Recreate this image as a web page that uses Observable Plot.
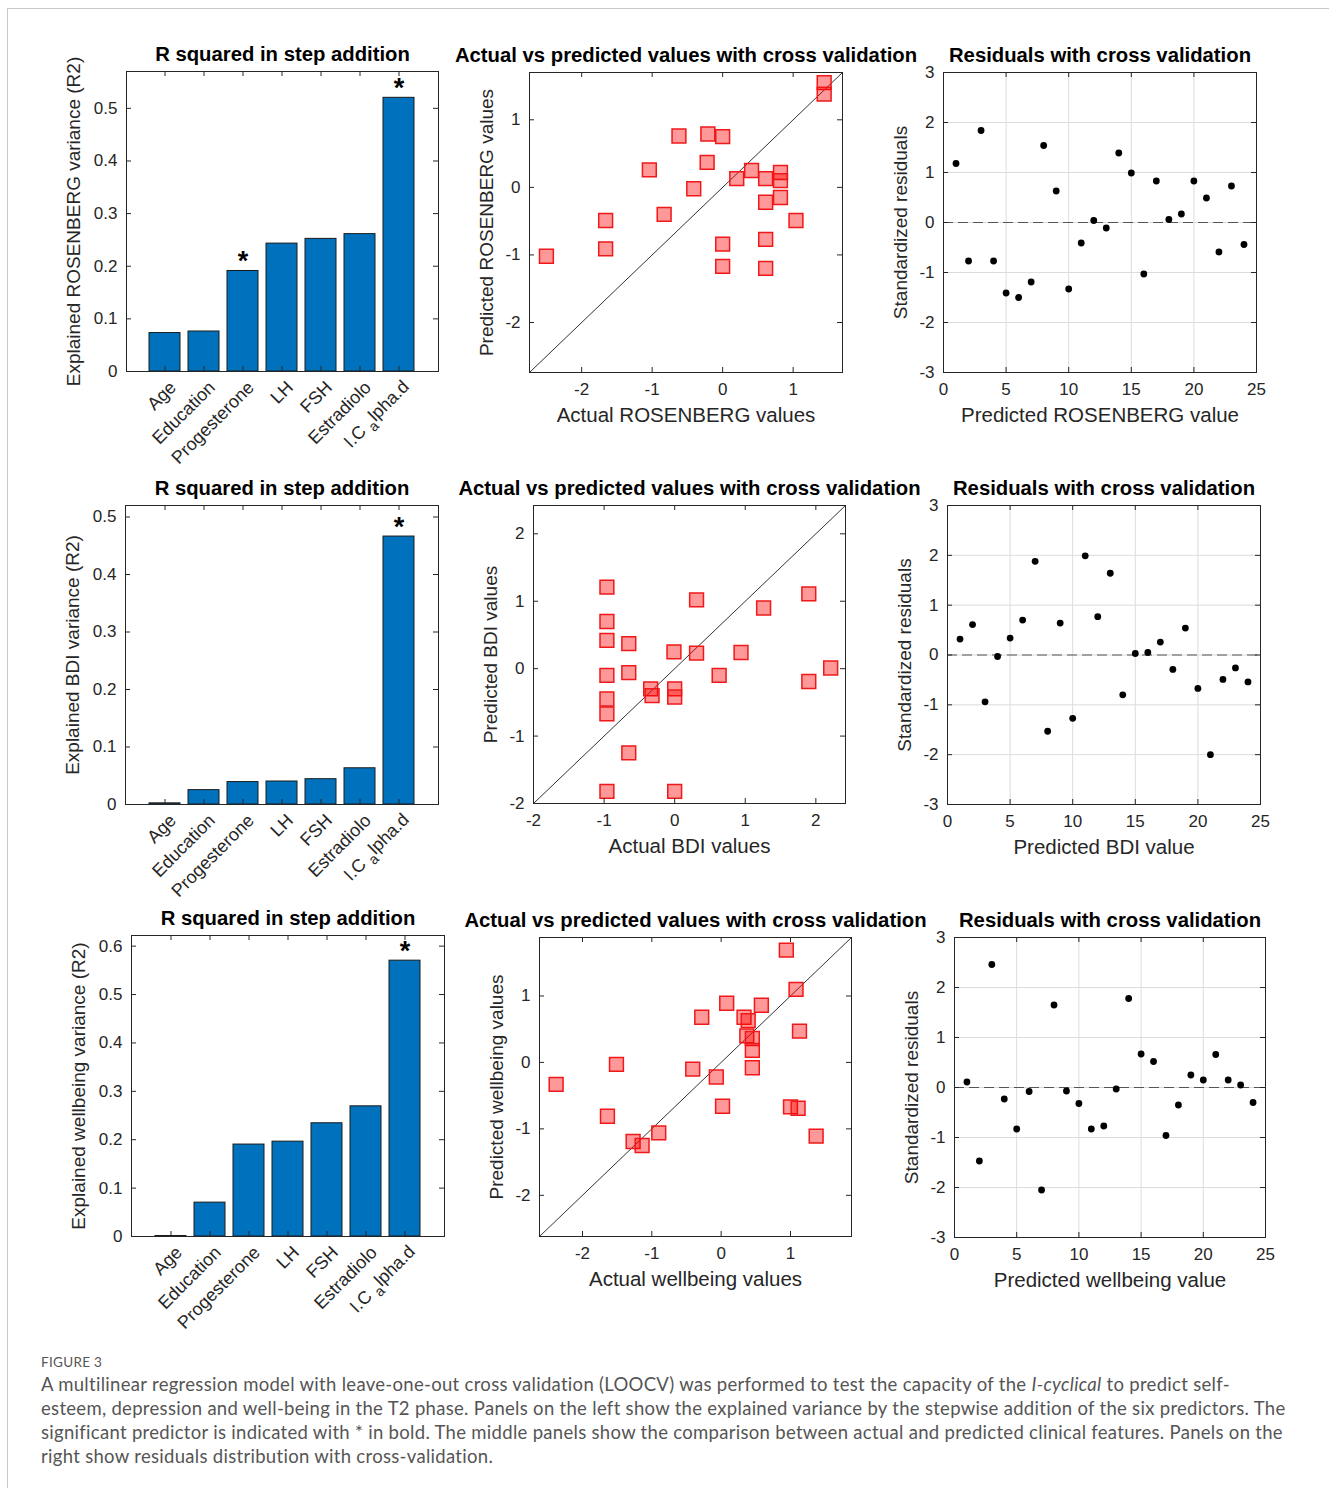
<!DOCTYPE html>
<html><head><meta charset="utf-8">
<script src="https://cdn.jsdelivr.net/npm/d3@7"></script>
<script src="https://cdn.jsdelivr.net/npm/@observablehq/plot@0.6"></script>
<style>
body{margin:0;background:#fff;width:1329px;height:1488px;overflow:hidden;position:relative;font-family:"Liberation Sans",Arial,sans-serif;}
.border{position:absolute;left:7px;top:8px;width:1340px;height:1500px;border-left:1px solid #c8c8c8;border-top:1px solid #c8c8c8;}
.panel{position:absolute;}
.panel svg{overflow:visible;}
.caption{position:absolute;left:41px;top:1352px;font-family:Lato,"Open Sans",sans-serif;color:#555;}
.caption .fig{font-size:13.5px;letter-spacing:0.3px;line-height:20px;}
.caption .txt{font-size:18.5px;letter-spacing:0.3px;line-height:24px;white-space:nowrap;}
</style></head><body>
<div class="border"></div>
<div id="root"></div>
<div class="caption">
<div class="fig">FIGURE 3</div>
<div class="txt">A multilinear regression model with leave-one-out cross validation (LOOCV) was performed to test the capacity of the <i>I-cyclical</i> to predict self-<br>esteem, depression and well-being in the T2 phase. Panels on the left show the explained variance by the stepwise addition of the six predictors. The<br>significant predictor is indicated with * in bold. The middle panels show the comparison between actual and predicted clinical features. Panels on the<br>right show residuals distribution with cross-validation.</div>
</div>
<script>
// ---------- data ----------
const predictors = ["Age","Education","Progesterone","LH","FSH","Estradiolo","I.Calpha.d"];

const r2Rosenberg = [0.073, 0.076, 0.191, 0.243, 0.252, 0.261, 0.520];
const sigRosenberg = [false, false, true, false, false, false, true];
const r2Bdi = [0.002, 0.025, 0.039, 0.040, 0.044, 0.063, 0.466];
const sigBdi = [false, false, false, false, false, false, true];
const r2Wellbeing = [0.001, 0.070, 0.190, 0.196, 0.234, 0.269, 0.570];
const sigWellbeing = [false, false, false, false, false, false, true];

const actualRosenberg = [1.44, 1.44, -0.62, -0.21, 0.00, -0.22, -1.04, -0.41, -0.83, -1.66, -1.66, -2.50, 0.20, 0.41, 0.61, 0.82, 0.82, 0.61, 0.82, 1.04, 0.00, 0.00, 0.61, 0.61];
const predictedRosenberg = [1.55, 1.38, 0.76, 0.79, 0.75, 0.37, 0.26, -0.02, -0.40, -0.49, -0.91, -1.02, 0.13, 0.25, 0.13, 0.22, 0.10, -0.22, -0.15, -0.49, -0.84, -1.17, -0.77, -1.20];
const residRosenberg = [1.18, -0.77, 1.84, -0.77, -1.41, -1.50, -1.19, 1.54, 0.63, -1.33, -0.41, 0.04, -0.11, 1.39, 0.99, -1.03, 0.83, 0.06, 0.17, 0.83, 0.49, -0.59, 0.73, -0.44];

const actualBdi = [-0.96, -0.96, -0.96, -0.65, -0.96, -0.65, -0.96, -0.96, -0.65, -0.96, 0.00, -0.01, -0.34, -0.32, 0.00, 0.00, 0.31, 0.31, 0.63, 0.94, 1.26, 1.90, 1.90, 2.21];
const predictedBdi = [1.21, 0.70, 0.42, 0.37, -0.10, -0.06, -0.45, -0.67, -1.25, -1.82, -1.82, 0.25, -0.30, -0.40, -0.30, -0.42, 1.02, 0.23, -0.10, 0.24, 0.90, 1.11, -0.19, 0.01];
const residBdi = [0.32, 0.61, -0.94, -0.03, 0.34, 0.70, 1.88, -1.53, 0.64, -1.27, 1.99, 0.77, 1.64, -0.80, 0.03, 0.05, 0.26, -0.29, 0.54, -0.67, -2.00, -0.49, -0.26, -0.54];

const actualWellbeing = [-2.38, -1.51, -1.64, -1.27, -1.14, -0.90, -0.41, -0.28, -0.07, 0.02, 0.08, 0.33, 0.39, 0.37, 0.45, 0.45, 0.45, 0.58, 0.94, 1.08, 1.13, 1.00, 1.11, 1.37];
const predictedWellbeing = [-0.33, -0.03, -0.81, -1.19, -1.25, -1.06, -0.10, 0.68, -0.22, -0.66, 0.89, 0.68, 0.63, 0.40, 0.36, 0.18, -0.08, 0.86, 1.69, 1.10, 0.47, -0.67, -0.69, -1.11];
const residWellbeing = [0.11, -1.47, 2.46, -0.23, -0.83, -0.08, -2.05, 1.65, -0.07, -0.32, -0.83, -0.77, -0.03, 1.78, 0.67, 0.52, -0.96, -0.35, 0.25, 0.15, 0.66, 0.15, 0.05, -0.30];

const barTitle = "R squared in step addition";
const scatterTitle = "Actual vs predicted values with cross validation";
const residTitle = "Residuals with cross validation";

// ---------- style ----------
const INK = "#262626";
const FONT = "'Liberation Sans', Arial, sans-serif";
const TICK_FS = 17, BAR_TICK_FS = 18, LABEL_FS = 20.5, YLABEL_FS = 19, TITLE_FS = 20.3;
const M = {left: 90, right: 30, top: 50, bottom: 115};
const fmt = d => String(d);

function dims(f) {
  return {
    width: M.left + f.w + M.right, height: M.top + f.h + M.bottom,
    marginLeft: M.left, marginRight: M.right, marginTop: M.top, marginBottom: M.bottom,
    style: {fontFamily: FONT, fontSize: TICK_FS + "px", color: INK, background: "transparent", overflow: "visible"}
  };
}
function place(svg, f) {
  const div = document.createElement("div");
  div.className = "panel";
  div.style.left = (f.x - M.left) + "px";
  div.style.top = (f.y - M.top) + "px";
  div.append(svg);
  document.getElementById("root").append(div);
}
function inward(xTicks, yTicks, f, len = 5) {
  return [
    Plot.tickX(xTicks, {x: d => d, insetTop: f.h - len, stroke: INK}),
    Plot.tickX(xTicks, {x: d => d, insetBottom: f.h - len, stroke: INK}),
    Plot.tickY(yTicks, {y: d => d, insetRight: f.w - len, stroke: INK}),
    Plot.tickY(yTicks, {y: d => d, insetLeft: f.w - len, stroke: INK})
  ];
}
function labels(f, title, xLabel, yLabel, xOff, yOff) {
  const m = [Plot.text([title], {frameAnchor: "top", textAnchor: "middle", dy: -11, lineAnchor: "bottom", fontWeight: "bold", fontSize: TITLE_FS, fill: "#000"})];
  if (xLabel) m.push(Plot.text([xLabel], {frameAnchor: "bottom", textAnchor: "middle", dy: xOff, fontSize: LABEL_FS, fill: INK}));
  if (yLabel) m.push(Plot.text([yLabel], {frameAnchor: "left", textAnchor: "middle", dx: -yOff, rotate: -90, fontSize: YLABEL_FS, fill: INK}));
  return m;
}

function barPanel(f, yMax, yTicks, values, sig, yLabel) {
  const data = predictors.map((p, i) => ({p, v: values[i], s: sig[i]}));
  const svg = Plot.plot({
    ...dims(f),
    x: {domain: predictors, paddingInner: 0.2, paddingOuter: 0.6, align: 0.5},
    y: {domain: [0, yMax]},
    marks: [
      Plot.barY(data, {x: "p", y: "v", fill: "#0072BD", stroke: "#1a1a1a", strokeWidth: 1}),
      Plot.text(data.filter(d => d.s), {x: "p", y: "v", text: () => "*", dy: -1, lineAnchor: "bottom", fontSize: 27, fontWeight: "bold", fill: "#000"}),
      Plot.frame({stroke: INK}),
      ...inward(predictors, yTicks, f),
      Plot.axisX({tickSize: 0, tickRotate: -45, tickPadding: 13, dx: 8, fontSize: BAR_TICK_FS, label: null}),
      Plot.axisY({ticks: yTicks, tickSize: 0, tickPadding: 9, fontSize: TICK_FS, label: null, tickFormat: fmt}),
      ...labels(f, barTitle, null, yLabel, 0, 53)
    ]
  });
  svg.querySelectorAll("text").forEach(t => {
    if (t.textContent === "I.Calpha.d") {
      t.innerHTML = 'I.C <tspan dy="0.35em" font-size="0.8em">a</tspan><tspan dy="-0.35em">lpha.d</tspan>';
    }
  });
  place(svg, f);
}

function scatterPanel(f, dom, xTicks, yTicks, actual, predicted, xLabel, yLabel) {
  const data = actual.map((a, i) => ({a, p: predicted[i]}));
  const svg = Plot.plot({
    ...dims(f),
    x: {domain: dom}, y: {domain: dom},
    marks: [
      Plot.line(dom, {x: d => d, y: d => d, stroke: "#333", strokeWidth: 1}),
      Plot.dot(data, {x: "a", y: "p", symbol: "square", r: 7.8, fill: "#ff0000", fillOpacity: 0.4, stroke: "#f01818", strokeWidth: 1.5}),
      Plot.frame({stroke: INK}),
      ...inward(xTicks, yTicks, f),
      Plot.axisX({ticks: xTicks, tickSize: 0, tickPadding: 10, fontSize: TICK_FS, label: null, tickFormat: fmt}),
      Plot.axisY({ticks: yTicks, tickSize: 0, tickPadding: 9, fontSize: TICK_FS, label: null, tickFormat: fmt}),
      ...labels(f, scatterTitle, xLabel, yLabel, 49, 43)
    ]
  });
  place(svg, f);
}

const residXTicks = [0, 5, 10, 15, 20, 25];
const residYTicks = [-3, -2, -1, 0, 1, 2, 3];
function residPanel(f, resid, xLabel) {
  const data = resid.map((r, i) => ({i: i + 1, r}));
  const svg = Plot.plot({
    ...dims(f),
    x: {domain: [0, 25]}, y: {domain: [-3, 3]},
    marks: [
      Plot.gridX(residXTicks, {stroke: "#dcdcdc", strokeOpacity: 1}),
      Plot.gridY(residYTicks, {stroke: "#dcdcdc", strokeOpacity: 1}),
      Plot.ruleY([0], {stroke: "#555", strokeDasharray: "10,5", strokeWidth: 1}),
      Plot.dot(data, {x: "i", y: "r", r: 3.4, fill: "#000"}),
      Plot.frame({stroke: INK}),
      ...inward(residXTicks, residYTicks, f),
      Plot.axisX({ticks: residXTicks, tickSize: 0, tickPadding: 10, fontSize: TICK_FS, label: null, tickFormat: fmt}),
      Plot.axisY({ticks: residYTicks, tickSize: 0, tickPadding: 9, fontSize: TICK_FS, label: null, tickFormat: fmt}),
      ...labels(f, residTitle, xLabel, "Standardized residuals", 49, 43)
    ]
  });
  place(svg, f);
}

// ---------- layout (frames) ----------
barPanel({x: 126, y: 71, w: 312, h: 300}, 0.57, [0, 0.1, 0.2, 0.3, 0.4, 0.5], r2Rosenberg, sigRosenberg, "Explained ROSENBERG variance (R2)");
scatterPanel({x: 529, y: 72, w: 313, h: 300}, [-2.74, 1.70], [-2, -1, 0, 1], [-2, -1, 0, 1], actualRosenberg, predictedRosenberg, "Actual ROSENBERG values", "Predicted ROSENBERG values");
residPanel({x: 943, y: 72, w: 313, h: 300}, residRosenberg, "Predicted ROSENBERG value");

barPanel({x: 125, y: 505, w: 313, h: 299}, 0.52, [0, 0.1, 0.2, 0.3, 0.4, 0.5], r2Bdi, sigBdi, "Explained BDI variance (R2)");
scatterPanel({x: 533, y: 505, w: 312, h: 298}, [-2, 2.42], [-2, -1, 0, 1, 2], [-2, -1, 0, 1, 2], actualBdi, predictedBdi, "Actual BDI values", "Predicted BDI values");
residPanel({x: 947, y: 505, w: 313, h: 299}, residBdi, "Predicted BDI value");

barPanel({x: 131, y: 935, w: 313, h: 301}, 0.622, [0, 0.1, 0.2, 0.3, 0.4, 0.5, 0.6], r2Wellbeing, sigWellbeing, "Explained wellbeing variance (R2)");
scatterPanel({x: 539, y: 937, w: 312, h: 299}, [-2.62, 1.88], [-2, -1, 0, 1], [-2, -1, 0, 1], actualWellbeing, predictedWellbeing, "Actual wellbeing values", "Predicted wellbeing values");
residPanel({x: 954, y: 937, w: 311, h: 300}, residWellbeing, "Predicted wellbeing value");
</script>
</body></html>
